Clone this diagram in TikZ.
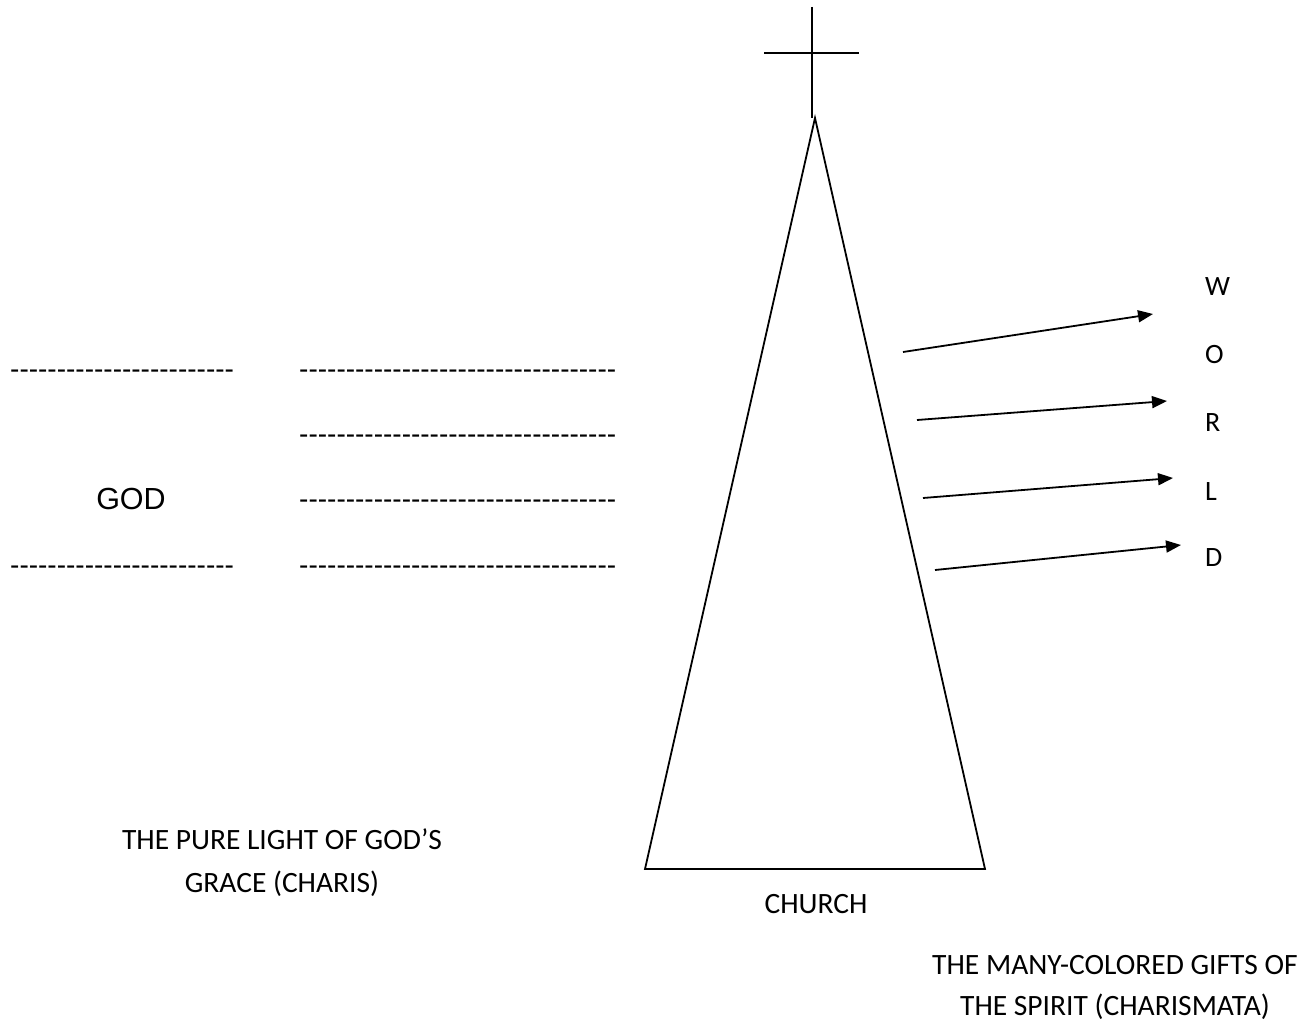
\documentclass[tikz,border=0pt]{standalone}
\usepackage{fontspec}
\setmainfont{Carlito}
\newfontfamily\arialf{Liberation Sans}
\usetikzlibrary{arrows.meta}
\tikzset{
  ln/.style={line width=1.8pt, black},
  arr/.style={ln, -{Triangle[length=15pt,width=12pt]}},
  dashrow/.style={font=\arialf\fontsize{28}{28}\selectfont, inner sep=0pt, anchor=west},
  lbl/.style={font=\fontsize{29.5}{36}\selectfont, inner sep=0pt, align=center},
  letter/.style={font=\fontsize{28}{32}\selectfont, inner sep=0pt, anchor=west},
}
\begin{document}
\begin{tikzpicture}[x=1pt,y=-1pt]
\useasboundingbox (0,0) rectangle (1314,1022);
% dash rows
\node[dashrow] (d1) at (10,374) {------------------------};
\node[dashrow] (d2) at (10,570) {------------------------};
\node[dashrow] (d3) at (299,374) {----------------------------------};
\node[dashrow] (d4) at (299,439) {----------------------------------};
\node[dashrow] (d5) at (299,504) {----------------------------------};
\node[dashrow] (d6) at (299,570) {----------------------------------};
\node[font=\arialf\fontsize{30.5}{30.5}\selectfont, inner sep=0pt] (god) at (131,499) {GOD};
% church
\coordinate (apex) at (815,118);
\coordinate (bl) at (645,869);
\coordinate (br) at (985,869);
\draw[ln] (apex) -- (bl) -- (br) -- cycle;
\coordinate (ct) at (812,7);
\coordinate (cb) at (812,118);
\coordinate (cl) at (764,53);
\coordinate (cr) at (859,53);
\draw[ln] (ct) -- (cb);
\draw[ln] (cl) -- (cr);
\node[lbl] (church) at (816,904) {CHURCH};
% arrows
\coordinate (a1s) at (903,352); \coordinate (a1e) at (1153,314);
\coordinate (a2s) at (917,420); \coordinate (a2e) at (1167,401);
\coordinate (a3s) at (923,498); \coordinate (a3e) at (1173,478);
\coordinate (a4s) at (935,570); \coordinate (a4e) at (1181,545);
\draw[arr] (a1s) -- (a1e);
\draw[arr] (a2s) -- (a2e);
\draw[arr] (a3s) -- (a3e);
\draw[arr] (a4s) -- (a4e);
% world
\node[letter] (w) at (1205,287) {W};
\node[letter] (o) at (1205,355) {O};
\node[letter] (r) at (1205,423) {R};
\node[letter] (l) at (1205,492) {L};
\node[letter] (dd) at (1205,558) {D};
% captions
\node[lbl] (grace) at (282,863) {THE PURE LIGHT OF GOD’S\\[7pt]GRACE (CHARIS)};
\node[lbl] (gifts) at (1115,987) {THE MANY-COLORED GIFTS OF\\[5pt]THE SPIRIT (CHARISMATA)};
\end{tikzpicture}
\end{document}
